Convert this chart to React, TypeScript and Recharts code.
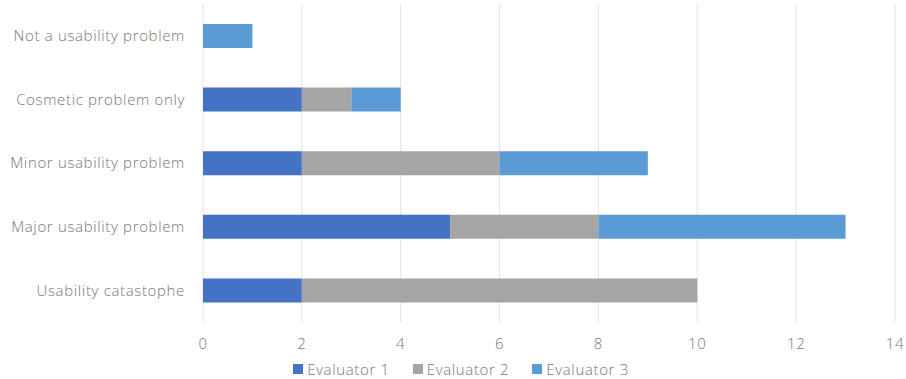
import React from "react";
import { BarChart, Bar, XAxis, YAxis, CartesianGrid, Legend } from "recharts";

const categories = [
  "Not a usability problem",
  "Cosmetic problem only",
  "Minor usability problem",
  "Major usability problem",
  "Usability catastophe",
];
const evaluator1 = [0, 2, 2, 5, 2];
const evaluator2 = [0, 1, 4, 3, 8];
const evaluator3 = [1, 1, 3, 5, 0];
const xTicks = [0, 2, 4, 6, 8, 10, 12, 14];
const seriesNames = ["Evaluator 1", "Evaluator 2", "Evaluator 3"];
const colors = ["#4472C4", "#A5A5A5", "#5B9BD5"];

const data = categories.map((c, i) => ({
  name: c,
  e1: evaluator1[i],
  e2: evaluator2[i],
  e3: evaluator3[i],
}));

const FONT = "'Open Sans', sans-serif";
const TEXT = "#767676";

const LegendContent = (props: any) => {
  const payload = props.payload || [];
  return (
    <div style={{ display: "flex", justifyContent: "center", fontFamily: FONT, fontSize: 15, color: TEXT, letterSpacing: 0.65, fontWeight: 300 }}>
      {payload.map((p: any, i: number) => (
        <div key={i} style={{ display: "flex", alignItems: "center", marginRight: i < payload.length - 1 ? 23 : 0 }}>
          <span style={{ display: "inline-block", width: 10, height: 10, background: p.color, marginRight: 4 }} />
          <span>{p.value}</span>
        </div>
      ))}
    </div>
  );
};

const tickStyle = { fill: TEXT, fontSize: 15, fontFamily: FONT, letterSpacing: 0.65, fontWeight: 300 };

export default function App() {
  return (
    <div style={{ position: "absolute", left: 0, top: 0, background: "#fff" }}>
      <BarChart
        width={906}
        height={379}
        data={data}
        layout="vertical"
        margin={{ top: 4, right: 11, bottom: 0, left: 0 }}
      >
        <CartesianGrid horizontal={false} stroke="#e3e3e3" />
        <XAxis
          type="number"
          domain={[0, 14]}
          ticks={xTicks}
          axisLine={false}
          tickLine={false}
          tickMargin={10}
          height={57}
          tick={tickStyle}
        />
        <YAxis
          type="category"
          dataKey="name"
          width={203}
          axisLine={false}
          tickLine={false}
          tickMargin={12}
          tick={tickStyle}
        />
        <Legend
          layout="horizontal"
          verticalAlign="middle"
          align="center"
          wrapperStyle={{ top: 359, left: 16, width: 890 }}
          content={<LegendContent />}
        />
        <Bar dataKey="e1" name={seriesNames[0]} stackId="a" fill={colors[0]} barSize={24} isAnimationActive={false} />
        <Bar dataKey="e2" name={seriesNames[1]} stackId="a" fill={colors[1]} barSize={24} isAnimationActive={false} />
        <Bar dataKey="e3" name={seriesNames[2]} stackId="a" fill={colors[2]} barSize={24} isAnimationActive={false} />
      </BarChart>
    </div>
  );
}
